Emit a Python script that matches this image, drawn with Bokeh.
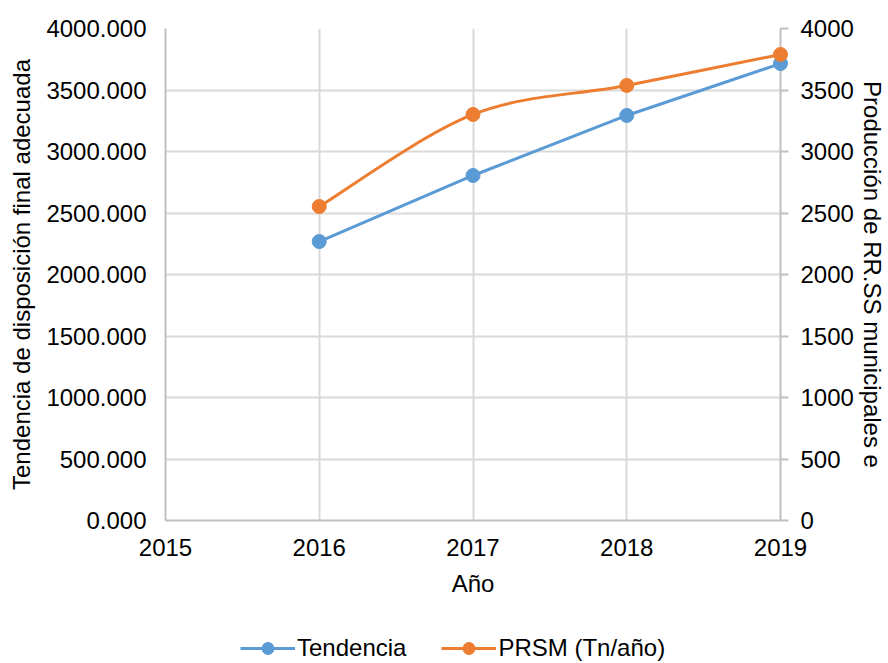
import numpy as np
from bokeh.plotting import figure
from bokeh.layouts import column
from bokeh.models import (Range1d, LinearAxis, FixedTicker, PrintfTickFormatter,
                          Legend, LegendItem, ColumnDataSource)
from bokeh.embed import file_html
from bokeh.resources import INLINE

# ---- data ----
years = [2016, 2017, 2018, 2019]
tendencia = [2268, 2805, 3293, 3715]
prsm = [2553, 3301, 3537, 3789]
x_ticks = [2015, 2016, 2017, 2018, 2019]
y_ticks = [0, 500, 1000, 1500, 2000, 2500, 3000, 3500, 4000]

FONT = "Liberation Sans"
FS = "24px"
BLUE = "#5b9bd5"
ORANGE = "#ed7d31"
GRID = "#d9d9d9"
AXIS = "#bfbfbf"

p = figure(width=888, height=630, output_backend="svg", toolbar_location=None,
           x_range=Range1d(2015, 2019), y_range=Range1d(0, 4000),
           min_border_left=165, min_border_right=108, min_border_top=28,
           min_border_bottom=110, x_axis_label="Año",
           y_axis_label="Tendencia de disposición final adecuada")
p.outline_line_color = None
p.background_fill_color = "white"

# grids
p.xgrid.ticker = FixedTicker(ticks=x_ticks)
p.ygrid.ticker = FixedTicker(ticks=y_ticks)
for g in (p.xgrid, p.ygrid):
    g.grid_line_color = GRID
    g.grid_line_width = 2

# x axis
xa = p.xaxis[0]
xa.ticker = FixedTicker(ticks=x_ticks)
xa.axis_line_color = AXIS
xa.axis_line_width = 2
xa.major_tick_line_color = None
xa.minor_tick_line_color = None
xa.major_tick_out = 0
xa.major_label_standoff = 18
xa.axis_label_standoff = 11

# left y axis
ya = p.yaxis[0]
ya.ticker = FixedTicker(ticks=y_ticks)
ya.formatter = PrintfTickFormatter(format="%.3f")
ya.axis_line_color = AXIS
ya.axis_line_width = 2
ya.major_tick_line_color = None
ya.minor_tick_line_color = None
ya.major_tick_out = 0
ya.major_label_standoff = 19
ya.axis_label_standoff = 8

# right y axis
p.extra_y_ranges = {"r": Range1d(0, 4000)}
ra = LinearAxis(y_range_name="r", ticker=FixedTicker(ticks=y_ticks),
                axis_label="Producción de RR.SS municipales e")
ra.axis_line_color = AXIS
ra.axis_line_width = 2
ra.major_tick_line_color = AXIS
ra.major_tick_line_width = 2
ra.major_tick_out = 8
ra.major_tick_in = 0
ra.minor_tick_line_color = None
ra.major_label_standoff = 12
ra.axis_label_standoff = 2
p.add_layout(ra, "right")

for ax in (xa, ya, ra):
    ax.major_label_text_font = FONT
    ax.major_label_text_font_size = FS
    ax.major_label_text_color = "black"
    ax.axis_label_text_font = FONT
    ax.axis_label_text_font_size = FS
    ax.axis_label_text_font_style = "normal"
    ax.axis_label_text_color = "black"

# Tendencia: straight line with markers
src_t = ColumnDataSource(dict(x=years, y=tendencia))
p.line("x", "y", source=src_t, line_color=BLUE, line_width=3, level="overlay")
p.scatter("x", "y", source=src_t, size=14, fill_color=BLUE, line_color=BLUE,
          level="overlay")

# PRSM: smoothed line (Catmull-Rom -> cubic bezier) with markers
X = np.array(years, dtype=float)
Y = np.array(prsm, dtype=float)
Xp = np.concatenate([[X[0]], X, [X[-1]]])
Yp = np.concatenate([[Y[0]], Y, [Y[-1]]])
n = len(X)
x0 = X[:-1]; y0 = Y[:-1]; x1 = X[1:]; y1 = Y[1:]
cx0 = X[:-1] + (Xp[2:n + 1] - Xp[0:n - 1]) / 6.0
cy0 = Y[:-1] + (Yp[2:n + 1] - Yp[0:n - 1]) / 6.0
cx1 = X[1:] - (Xp[3:n + 2] - Xp[1:n]) / 6.0
cy1 = Y[1:] - (Yp[3:n + 2] - Yp[1:n]) / 6.0
src_b = ColumnDataSource(dict(x0=x0, y0=y0, x1=x1, y1=y1,
                              cx0=cx0, cy0=cy0, cx1=cx1, cy1=cy1))
p.bezier(x0="x0", y0="y0", x1="x1", y1="y1", cx0="cx0", cy0="cy0",
         cx1="cx1", cy1="cy1", source=src_b, line_color=ORANGE, line_width=3,
         level="overlay")
src_p = ColumnDataSource(dict(x=years, y=prsm))
p.scatter("x", "y", source=src_p, size=14, fill_color=ORANGE,
          line_color=ORANGE, level="overlay")

# ---- legend strip below the chart (same series, view kept off their data) ----
q = figure(width=888, height=33, output_backend="svg", toolbar_location=None,
           x_range=Range1d(0, 1), y_range=Range1d(0, 1),
           min_border=0, min_border_left=0, min_border_right=0,
           min_border_top=0, min_border_bottom=0)
q.axis.visible = False
q.grid.visible = False
q.outline_line_color = None
qlt = q.line("x", "y", source=src_t, line_color=BLUE, line_width=3)
qst = q.scatter("x", "y", source=src_t, size=14, fill_color=BLUE, line_color=BLUE)
qlp = q.line("x", "y", source=src_p, line_color=ORANGE, line_width=3)
qsp = q.scatter("x", "y", source=src_p, size=14, fill_color=ORANGE, line_color=ORANGE)

legend = Legend(items=[LegendItem(label="Tendencia", renderers=[qlt, qst]),
                       LegendItem(label="PRSM (Tn/año)", renderers=[qlp, qsp])],
                orientation="horizontal", location=(75, 0))
legend.label_text_font = FONT
legend.label_text_font_size = FS
legend.label_text_color = "black"
legend.glyph_width = 55
legend.glyph_height = 30
legend.label_height = 26
legend.label_standoff = 2
legend.spacing = 35
legend.padding = 0
legend.margin = 0
legend.border_line_color = None
legend.background_fill_alpha = 0
q.add_layout(legend)

layout = column(p, q, spacing=0)
open("out.html", "w").write(file_html(layout, INLINE))
